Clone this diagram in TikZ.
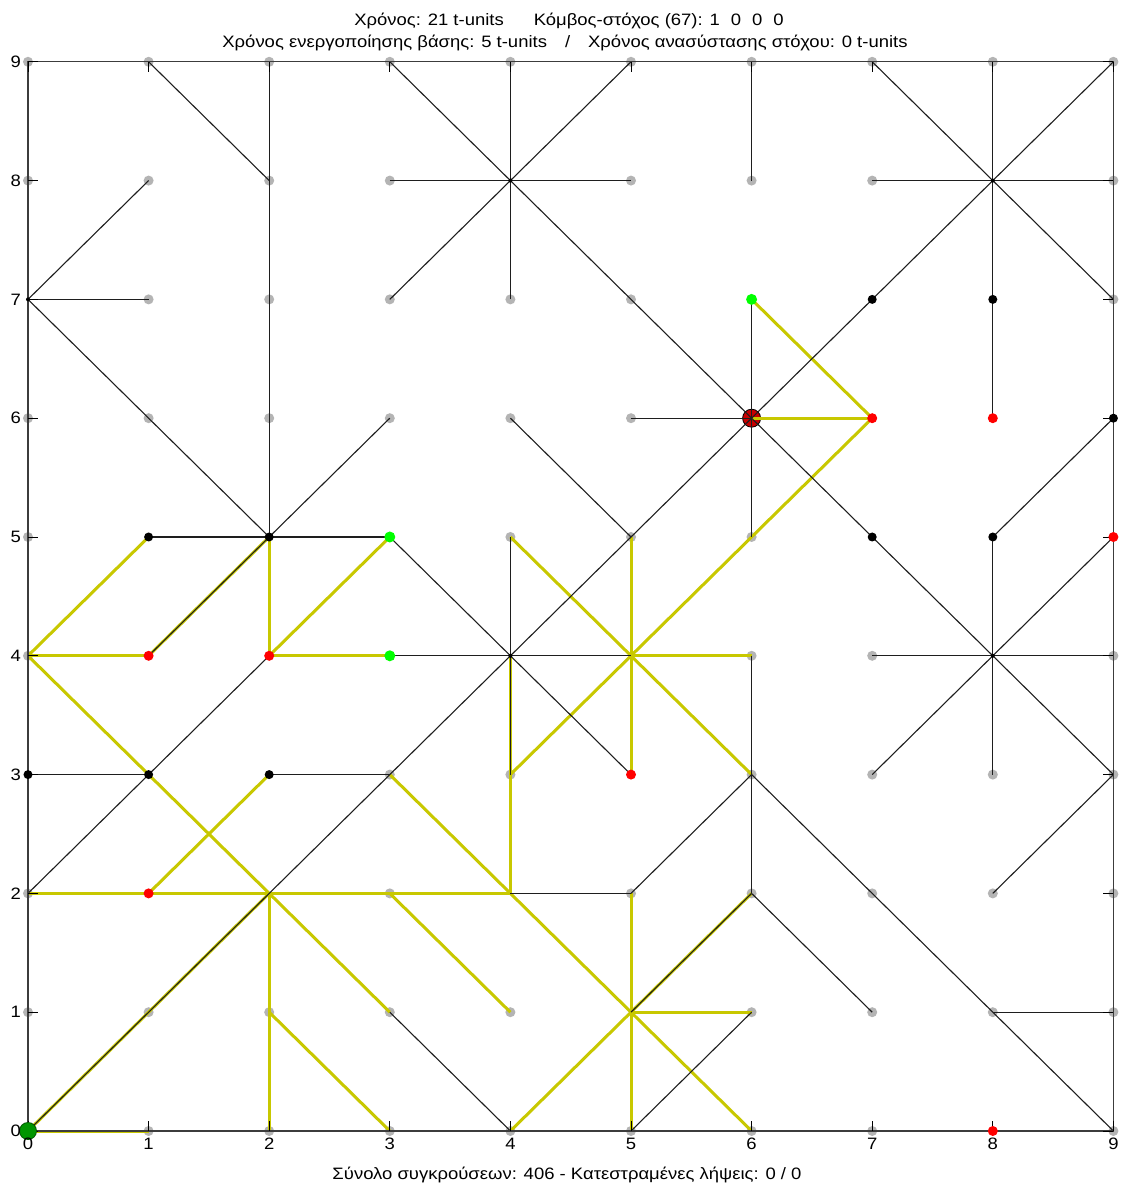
\documentclass[tikz,border=0pt]{standalone}
\usepackage{fontspec}
\setmainfont{Liberation Sans}[FakeStretch=1.12]
\definecolor{ygold}{RGB}{200,200,0}
\definecolor{dotgray}{RGB}{180,180,180}
\definecolor{edgec}{RGB}{30,30,30}
\definecolor{axisc}{RGB}{60,60,60}
\definecolor{brgreen}{RGB}{0,255,0}
\definecolor{dkgreen}{RGB}{0,150,0}
\definecolor{dkred}{RGB}{200,0,0}
\begin{document}
\begin{tikzpicture}[x=120.6pt,y=118.8pt,
  edge/.style={line width=1.1pt, draw=edgec},
  route/.style={line width=3pt, draw=ygold},
  axisline/.style={line width=1.3pt, draw=axisc},
  tickline/.style={line width=0.9pt, draw=black},
  gdot/.style={circle, fill=dotgray, minimum size=10pt, inner sep=0pt},
  bdot/.style={circle, fill=black, minimum size=9pt, inner sep=0pt},
  hdot/.style={circle, fill=black, minimum size=4pt, inner sep=0pt},
  rdot/.style={circle, fill=red, minimum size=10pt, inner sep=0pt},
  gndot/.style={circle, fill=brgreen, minimum size=11pt, inner sep=0pt},
  basedot/.style={circle, fill=dkgreen, draw={rgb,255:red,0;green,90;blue,0}, line width=0.8pt, minimum size=17pt, inner sep=0pt},
  targetdot/.style={circle, fill=dkred, draw=black, line width=0.8pt, minimum size=18pt, inner sep=0pt},
  lab/.style={font=\fontsize{16.5}{18}\selectfont, inner sep=0pt}]
\useasboundingbox (-28pt,-55pt) rectangle (1095pt,1131pt);
\fill[white] (-28pt,-55pt) rectangle (1095pt,1131pt);

\foreach \i in {0,...,9}{\foreach \j in {0,...,9}{\coordinate (c\i\j) at (\i,\j);}}

% gray nodes
\foreach \i/\j in {0/9,1/9,2/9,3/9,4/9,5/9,6/9,7/9,8/9,9/9,
  0/8,1/8,2/8,3/8,5/8,6/8,7/8,9/8,
  1/7,2/7,3/7,4/7,5/7,9/7,
  0/6,1/6,2/6,3/6,4/6,5/6,
  0/5,4/5,5/5,6/5,
  0/4,6/4,7/4,9/4,
  3/3,4/3,6/3,7/3,8/3,9/3,
  0/2,3/2,5/2,6/2,7/2,8/2,9/2,
  0/1,1/1,2/1,3/1,4/1,6/1,7/1,8/1,9/1,
  1/0,2/0,3/0,4/0,5/0,6/0,7/0,9/0}
  {\node[gdot] (g\i\j) at (c\i\j) {};}

% target node (drawn below its connectors)
\node[targetdot] (t66) at (c66) {};

% route (yellow)
\draw[route] (c00) -- (c10);
\draw[route] (c00) -- (c22);
\draw[route] (c02) -- (c42);
\draw[route] (c12) -- (c23);
\draw[route] (c04) -- (c31);
\draw[route] (c22) -- (c20);
\draw[route] (c21) -- (c30);
\draw[route] (c33) -- (c60);
\draw[route] (c32) -- (c41);
\draw[route] (c44) -- (c42);
\draw[route] (c43) -- (c76);
\draw[route] (c45) -- (c63);
\draw[route] (c55) -- (c53);
\draw[route] (c54) -- (c64);
\draw[route] (c66) -- (c76);
\draw[route] (c67) -- (c76);
\draw[route] (c04) -- (c15);
\draw[route] (c04) -- (c14);
\draw[route] (c14) -- (c25);
\draw[route] (c25) -- (c24);
\draw[route] (c24) -- (c35);
\draw[route] (c24) -- (c34);
\draw[route] (c40) -- (c51);
\draw[route] (c52) -- (c50);
\draw[route] (c51) -- (c62);
\draw[route] (c51) -- (c61);

% links (black)
\draw[edge] (c19) -- (c28);
\draw[edge] (c29) -- (c25);
\draw[edge] (c07) -- (c18);
\draw[edge] (c07) -- (c17);
\draw[edge] (c07) -- (c25);
\draw[edge] (c36) -- (c25);
\draw[edge] (c15) -- (c35);
\draw[edge] (c14) -- (c25);
\draw[edge] (c02) -- (c24);
\draw[edge] (c03) -- (c13);
\draw[edge] (c23) -- (c33);
\draw[edge] (c00) -- (c99);
\draw[edge] (c39) -- (c66);
\draw[edge] (c59) -- (c37);
\draw[edge] (c49) -- (c47);
\draw[edge] (c38) -- (c58);
\draw[edge] (c69) -- (c68);
\draw[edge] (c67) -- (c65);
\draw[edge] (c56) -- (c66);
\draw[edge] (c79) -- (c97);
\draw[edge] (c89) -- (c86);
\draw[edge] (c78) -- (c98);
\draw[edge] (c35) -- (c53);
\draw[edge] (c45) -- (c43);
\draw[edge] (c34) -- (c54);
\draw[edge] (c46) -- (c55);
\draw[edge] (c66) -- (c93);
\draw[edge] (c85) -- (c83);
\draw[edge] (c74) -- (c94);
\draw[edge] (c73) -- (c95);
\draw[edge] (c85) -- (c96);
\draw[edge] (c64) -- (c62);
\draw[edge] (c42) -- (c52);
\draw[edge] (c52) -- (c63);
\draw[edge] (c62) -- (c51);
\draw[edge] (c62) -- (c71);
\draw[edge] (c31) -- (c40);
\draw[edge] (c50) -- (c61);
\draw[edge] (c63) -- (c90);
\draw[edge] (c82) -- (c93);
\draw[edge] (c81) -- (c91);

% axes box and ticks
\draw[axisline] (c00) rectangle (c99);
\foreach \i in {0,...,9}{
  \draw[tickline] (c\i0) -- ++(0,10pt);
  \draw[tickline] (c\i9) -- ++(0,-10pt);
  \draw[tickline] (c0\i) -- ++(10pt,0);
  \draw[tickline] (c9\i) -- ++(-10pt,0);
}

% coloured nodes
\foreach \i/\j in {4/8,8/8,4/4,8/4,0/7}{\node[hdot] (h\i\j) at (c\i\j) {};}
\foreach \i/\j in {1/5,2/5,0/3,1/3,2/3,7/7,8/7,9/6,7/5,8/5}{\node[bdot] (b\i\j) at (c\i\j) {};}
\foreach \i/\j in {1/4,2/4,1/2,5/3,7/6,8/6,9/5,8/0}{\node[rdot] (r\i\j) at (c\i\j) {};}
\foreach \i/\j in {3/5,3/4,6/7}{\node[gndot] (n\i\j) at (c\i\j) {};}
\node[basedot] (base) at (c00) {};

% tick labels
\foreach \i in {0,...,9}{
  \node[lab, anchor=north] (xl\i) at ([yshift=-7pt]c\i0) {\i};
  \node[lab, anchor=east] (yl\i) at ([xshift=-7pt]c0\i) {\i};
}

% texts
\node[lab, anchor=base] (title1) at (541pt,1105.5pt) {Χρόνος: 21 t-units\hspace{30pt}Κόμβος-στόχος (67): 1\hspace{11pt}0\hspace{11pt}0\hspace{11pt}0};
\node[lab, anchor=base] (title2) at (537pt,1083.5pt) {Χρόνος ενεργοποίησης βάσης: 5 t-units\hspace{18pt}/\hspace{18pt}Χρόνος ανασύστασης στόχου: 0 t-units};
\node[lab, anchor=base] (bottom) at (539pt,-48pt) {Σύνολο συγκρούσεων: 406 - Κατεστραμένες λήψεις: 0 / 0};
\end{tikzpicture}
\end{document}
